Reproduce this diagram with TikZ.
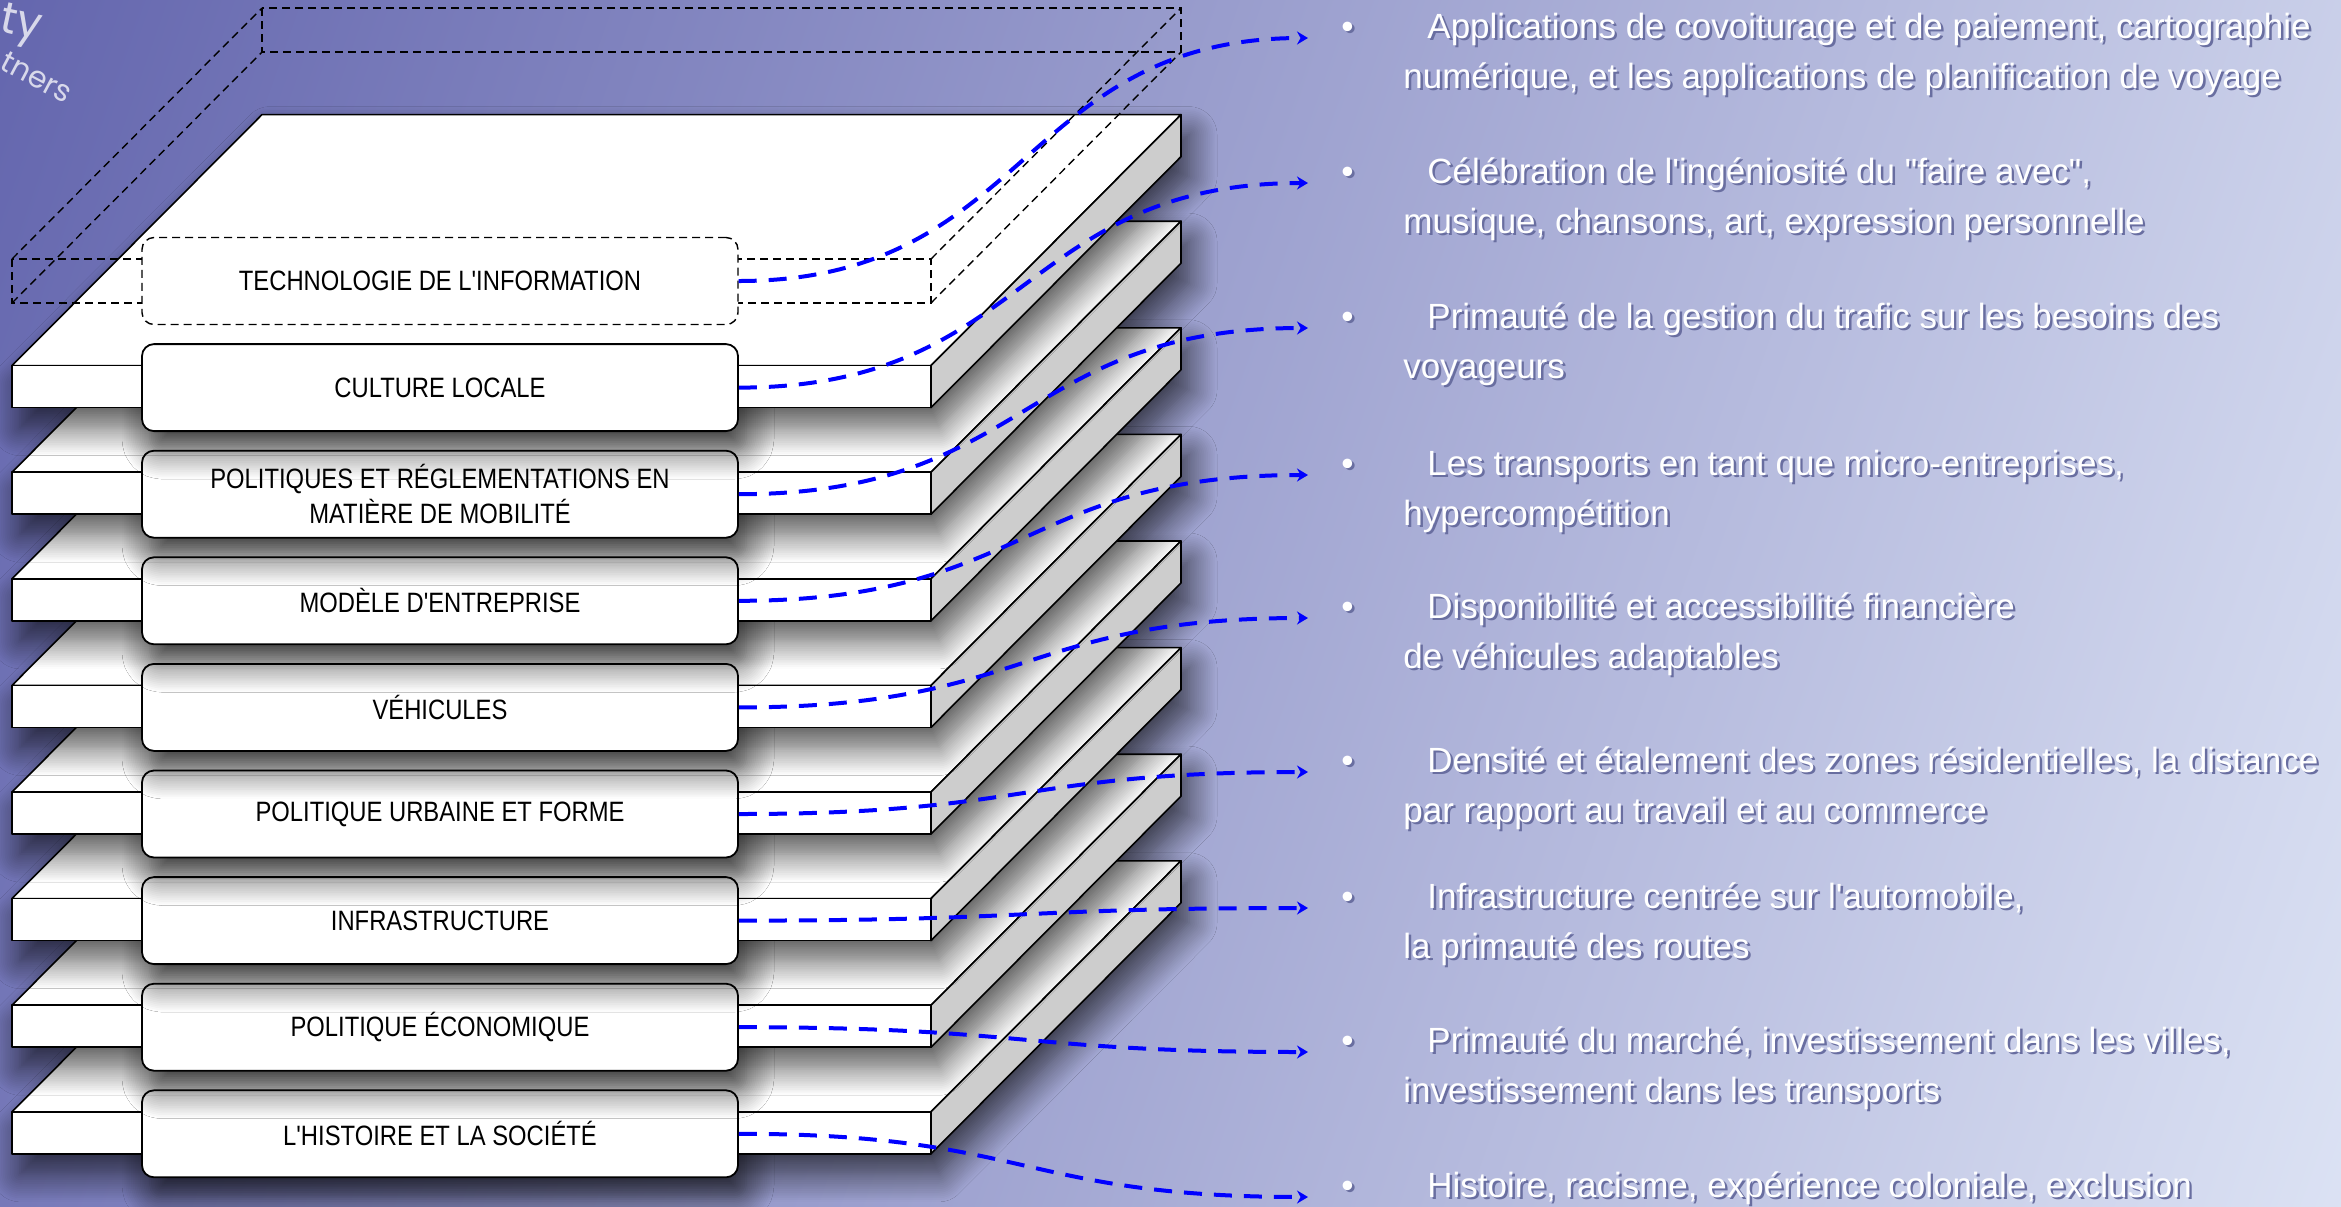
\documentclass[tikz,border=0pt]{standalone}
\usepackage{fontspec}
\setmainfont{Liberation Sans}[Ligatures=TeXOff]
\newfontfamily\labelfont{Liberation Sans}[FakeStretch=0.85,Ligatures=TeXOff]
\newfontfamily\logofont{Poppins}
\usetikzlibrary{arrows.meta,positioning,shadows.blur}

\definecolor{sidegray}{RGB}{205,205,205}
\definecolor{txtshadow}{RGB}{105,110,160}

% diagonal backdrop, dark top left to pale bottom right
\pgfdeclarefunctionalshading{backdrop}{\pgfpoint{0bp}{0bp}}{\pgfpoint{100bp}{100bp}}{}{
  75 exch sub 8.442 mul exch 25 sub 46.82 mul add 2763 div
  dup 0.468 mul 0.392 add exch
  dup 0.485 mul 0.4 add exch
  0.273 mul 0.682 add
}

% white text with a soft drop shadow
\newcommand{\shadowed}[1]{\makebox[0pt][l]{\hspace{1.2pt}\raisebox{-1.2pt}{\color{txtshadow}#1}}#1}
\newcommand{\bulletitem}[2]{\shadowed{\makebox[31pt][l]{\textbullet}\parbox[t]{560pt}{\hspace*{12pt}#1\\#2}}}

\begin{document}
\begin{tikzpicture}[x=0.5pt,y=-0.5pt,>={Stealth[length=5.5pt,width=6.5pt]},
  face/.style={draw=black,fill=white,line width=0.8pt,line join=round},
  cast/.style={fill=white,blur shadow={shadow xshift=4pt,shadow yshift=-10pt,shadow blur radius=14pt,
    shadow blur steps=16,shadow opacity=68}},
  tab/.style={draw,fill=white,rounded corners=6pt,line width=0.9pt,minimum width=298pt,minimum height=43.5pt,
    inner sep=0pt,align=center,font=\labelfont\fontsize{14pt}{17.5pt}\selectfont},
  ghost/.style={draw,line width=0.7pt,dash pattern=on 4pt off 2.5pt},
  item/.style={anchor=base west,inner sep=0pt,text=white,font=\fontsize{17.5pt}{25pt}\selectfont},
  logo/.style={anchor=base east,inner sep=0pt,text=white,text opacity=0.75,font=\logofont},
  link/.style={->,draw=blue,line width=2pt,dash pattern=on 9pt off 6pt,shorten >=16.5pt}]

\useasboundingbox (0,0) rectangle (2341,1206);
\clip (0,0) rectangle (2341,1206);
\shade[shading=backdrop] (0,0) rectangle (2341,1206);

\node[logo,font=\logofont\fontsize{22pt}{22pt}\selectfont,rotate=-12] (logo1) at (39,40) {ty};
\node[logo,font=\logofont\fontsize{15pt}{15pt}\selectfont,rotate=-28] (logo2) at (66,104) {tners};

% slabs, lowest first
\foreach \k/\lab in {8/{L'HISTOIRE ET LA SOCIÉTÉ},7/{POLITIQUE ÉCONOMIQUE},6/INFRASTRUCTURE,
    5/{POLITIQUE URBAINE ET FORME},4/VÉHICULES,3/{MODÈLE D'ENTREPRISE},
    2/{POLITIQUES ET RÉGLEMENTATIONS EN\\MATIÈRE DE MOBILITÉ},1/{CULTURE LOCALE}}{
  \pgfmathsetmacro{\yt}{259+106.6*\k}
  \fill[cast,rounded corners=6pt] (142,\yt-21.5) rectangle (738,\yt+65.5);
  \fill[cast] (12,\yt+42) -- (931,\yt+42) -- (1181,\yt-209) -- (1181,\yt-251) -- (262,\yt-251) -- (12,\yt) -- cycle;
  \filldraw[face] (12,\yt) -- (931,\yt) -- (1181,\yt-251) -- (262,\yt-251) -- cycle;
  \filldraw[face,fill=sidegray] (931,\yt) -- (1181,\yt-251) -- (1181,\yt-209) -- (931,\yt+42) -- cycle;
  \filldraw[face] (12,\yt) rectangle (931,\yt+42);
  \node[tab] (t\k) at (440,\yt+22) {\lab};
}

% dashed empty slab on top
\draw[ghost] (12,259) rectangle (931,303) (262,8) rectangle (1181,52);
\draw[ghost] (12,259) -- (262,8) (12,303) -- (262,52) (931,259) -- (1181,8) (931,303) -- (1181,52);
\node[tab,dash pattern=on 4pt off 2.5pt,line width=0.7pt] (t0) at (440,281) {TECHNOLOGIE DE L'INFORMATION};

% descriptions
\node[item] (i0) at (1341,38) {\bulletitem{Applications de covoiturage et de paiement, cartographie}{numérique, et les applications de planification de voyage}};
\node[item] (i1) at (1341,183) {\bulletitem{Célébration de l'ingéniosité du "faire avec",}{musique, chansons, art, expression personnelle}};
\node[item] (i2) at (1341,328) {\bulletitem{Primauté de la gestion du trafic sur les besoins des}{voyageurs}};
\node[item] (i3) at (1341,475) {\bulletitem{Les transports en tant que micro-entreprises,}{hypercompétition}};
\node[item] (i4) at (1341,618) {\bulletitem{Disponibilité et accessibilité financière}{de véhicules adaptables}};
\node[item] (i5) at (1341,772) {\bulletitem{Densité et étalement des zones résidentielles, la distance}{par rapport au travail et au commerce}};
\node[item] (i6) at (1341,908) {\bulletitem{Infrastructure centrée sur l'automobile,}{la primauté des routes}};
\node[item] (i7) at (1341,1052) {\bulletitem{Primauté du marché, investissement dans les villes,}{investissement dans les transports}};
\node[item] (i8) at (1341,1197) {\shadowed{\makebox[31pt][l]{\textbullet}\hspace*{12pt}Histoire, racisme, expérience coloniale, exclusion}};

\foreach \k in {0,...,8}
  \draw[link] (t\k.east) .. controls +(290,0) and +(-320,0) .. (i\k.base west);

\end{tikzpicture}
\end{document}
